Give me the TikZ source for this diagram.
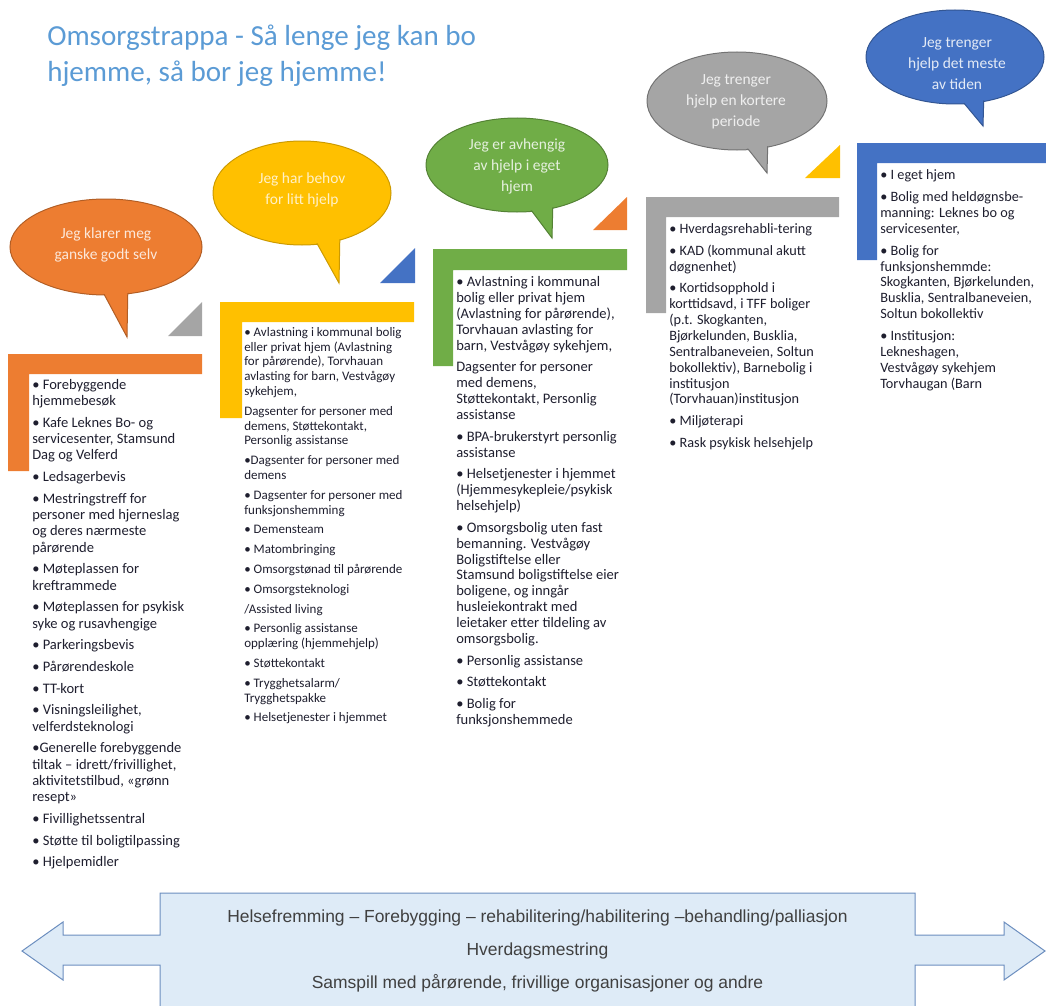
\documentclass[tikz,border=0pt]{standalone}
\usepackage{fontspec}
\setmainfont{Carlito}
\newfontfamily\arialf{Liberation Sans}
\usetikzlibrary{shapes.geometric}
\definecolor{cOr}{HTML}{ED7D31}
\definecolor{cGo}{HTML}{FFC000}
\definecolor{cGr}{HTML}{70AD47}
\definecolor{cGy}{HTML}{A5A5A5}
\definecolor{cBl}{HTML}{4472C4}
\definecolor{cTitle}{HTML}{5B9BD5}
\definecolor{cTxt}{HTML}{1E1E2E}
\definecolor{cArrFill}{HTML}{DEEBF7}
\definecolor{cArrLine}{HTML}{6C8EBF}
\definecolor{cArrTxt}{HTML}{404040}
\begin{document}
\begin{tikzpicture}[x=0.75pt,y=-0.75pt,
 bub/.style={ellipse, inner sep=0pt, outer sep=0pt, line width=0.75pt},
 bubin/.style={ellipse, inner sep=0pt, outer sep=0pt, draw=none},
 tail/.style={line width=0.75pt, line join=miter},
 bubtxt/.style={anchor=north, align=center, inner sep=0pt, font=\fontsize{11.6}{15.75}\selectfont},
 lst/.style={anchor=north west, align=left, inner sep=0pt, text=cTxt},
]
\useasboundingbox (0,0) rectangle (1046,1006);
\clip (0,0) rectangle (1046,1006);

% title
\node[anchor=north west, align=left, inner sep=0pt, text=cTitle, font=\fontsize{21.8}{27}\selectfont] (title) at (47,19.8)
 {\strut Omsorgstrappa - Så lenge jeg kan bo\\hjemme, så bor jeg hjemme!};

% ---- stairs (L shapes)
\fill[cOr] (8,354) -- (202,354) -- (202,374) -- (29,374) -- (29,471) -- (8,471) -- cycle;
\fill[cGo] (220,302) -- (414,302) -- (414,322) -- (242,322) -- (242,418) -- (220,418) -- cycle;
\fill[cGr] (433,249) -- (627,249) -- (627,270) -- (453,270) -- (453,366) -- (433,366) -- cycle;
\fill[cGy] (646,197) -- (839,197) -- (839,217) -- (666,217) -- (666,313) -- (646,313) -- cycle;
\fill[cBl] (857,143) -- (1050,143) -- (1050,163) -- (877,163) -- (877,260) -- (857,260) -- cycle;

% ---- triangles
\fill[cGy] (168,336) -- (202,336) -- (202,302) -- cycle;
\fill[cBl] (380,283) -- (415,283) -- (415,248) -- cycle;
\fill[cOr] (593,230) -- (627,230) -- (627,197) -- cycle;
\fill[cGo] (805,178) -- (840,178) -- (840,145) -- cycle;

% ---- bubbles
% orange
\node[bub, fill=cOr, draw=cOr!75!black, minimum width=144pt, minimum height=72pt] (b1) at (106,247) {};
\coordinate (t1) at (127,337);
\filldraw[tail, fill=cOr, draw=cOr!75!black] (97,281) -- (t1) -- (128,281);
\node[bubin, fill=cOr, minimum width=142.5pt, minimum height=70.5pt] (b1i) at (b1) {};
\node[bubtxt, text=white!82!cOr] (q1) at (106,227.8) {Jeg klarer meg\\ganske godt selv};
% gold
\node[bub, fill=cGo, draw=cGo!80!black, minimum width=133.5pt, minimum height=78pt] (b2) at (302,193) {};
\coordinate (t2) at (339,283);
\filldraw[tail, fill=cGo, draw=cGo!80!black] (309,229) -- (t2) -- (340,229);
\node[bubin, fill=cGo, minimum width=132pt, minimum height=76.5pt] (b2i) at (b2) {};
\node[bubtxt, text=white!78!cGo] (q2) at (302,172.8) {Jeg har behov\\for litt hjelp};
% green
\node[bub, fill=cGr, draw=cGr!75!black, minimum width=136.5pt, minimum height=70.5pt] (b3) at (517,165) {};
\coordinate (t3) at (552,238);
\filldraw[tail, fill=cGr, draw=cGr!75!black] (522,198) -- (t3) -- (553,198);
\node[bubin, fill=cGr, minimum width=135pt, minimum height=69pt] (b3i) at (b3) {};
\node[bubtxt, text=white!82!cGr] (q3) at (517,138.3) {Jeg er avhengig\\av hjelp i eget\\hjem};
% gray
\node[bub, fill=cGy, draw=cGy!70!black, minimum width=135pt, minimum height=73.5pt] (b4) at (737,101) {};
\coordinate (t4) at (767,173);
\filldraw[tail, fill=cGy, draw=cGy!70!black] (737,135) -- (t4) -- (768,135);
\node[bubin, fill=cGy, minimum width=133.5pt, minimum height=72pt] (b4i) at (b4) {};
\node[bubtxt, text=white!82!cGy] (q4) at (736,74.8) {Jeg trenger\\hjelp en kortere\\periode};
% blue
\node[bub, fill=cBl, draw=cBl!75!black, minimum width=133.5pt, minimum height=70.5pt] (b5) at (955,57) {};
\coordinate (t5) at (983,126);
\filldraw[tail, fill=cBl, draw=cBl!75!black] (953,90) -- (t5) -- (984,90);
\node[bubin, fill=cBl, minimum width=132pt, minimum height=69pt] (b5i) at (b5) {};
\node[bubtxt, text=white!85!cBl] (q5) at (957,37.8) {Jeg trenger\\hjelp det meste\\av tiden};

% ---- lists
\node[lst, font=\fontsize{10.9}{12.2}\selectfont] (l1) at (32,377.6) {\strut• Forebyggende\\
hjemmebesøk\\[4.1pt]
• Kafe Leknes Bo- og\\
servicesenter, Stamsund\\
Dag og Velferd\\[4.1pt]
• Ledsagerbevis\\[4.1pt]
• Mestringstreff for\\
personer med hjerneslag\\
og deres nærmeste\\
pårørende\\[4.1pt]
• Møteplassen for\\
kreftrammede\\[4.1pt]
• Møteplassen for psykisk\\
syke og rusavhengige\\[4.1pt]
• Parkeringsbevis\\[4.1pt]
• Pårørendeskole\\[4.1pt]
• TT-kort\\[4.1pt]
• Visningsleilighet,\\
velferdsteknologi\\[4.1pt]
•Generelle forebyggende\\
tiltak – idrett/frivillighet,\\
aktivitetstilbud, «grønn\\
resept»\\[4.1pt]
• Fivillighetssentral\\[4.1pt]
• Støtte til boligtilpassing\\[4.1pt]
• Hjelpemidler};

\node[lst, font=\fontsize{9.75}{11.1}\selectfont] (l2) at (244,325.6) {\strut• Avlastning i kommunal bolig\\
eller privat hjem (Avlastning\\
for pårørende), Torvhauan\\
avlasting for barn, Vestvågøy\\
sykehjem,\\[3.75pt]
Dagsenter for personer med\\
demens, Støttekontakt,\\
Personlig assistanse\\[3.75pt]
•Dagsenter for personer med\\
demens\\[3.75pt]
• Dagsenter for personer med\\
funksjonshemming\\[3.75pt]
• Demensteam\\[3.75pt]
• Matombringing\\[3.75pt]
• Omsorgstønad til pårørende\\[3.75pt]
• Omsorgsteknologi\\[3.75pt]
/Assisted living\\[3.75pt]
• Personlig assistanse\\
opplæring (hjemmehjelp)\\[3.75pt]
• Støttekontakt\\[3.75pt]
• Trygghetsalarm/\\
Trygghetspakke\\[3.75pt]
• Helsetjenester i hjemmet};

\node[lst, font=\fontsize{10.9}{11.9}\selectfont] (l3) at (456,275.4) {\strut• Avlastning i kommunal\\
bolig eller privat hjem\\
(Avlastning for pårørende),\\
Torvhauan avlasting for\\
barn, Vestvågøy sykehjem,\\[4.4pt]
Dagsenter for personer\\
med demens,\\
Støttekontakt, Personlig\\
assistanse\\[4.4pt]
• BPA-brukerstyrt personlig\\
assistanse\\[4.4pt]
• Helsetjenester i hjemmet\\
(Hjemmesykepleie/psykisk\\
helsehjelp)\\[4.4pt]
• Omsorgsbolig uten fast\\
bemanning. Vestvågøy\\
Boligstiftelse eller\\
Stamsund boligstiftelse eier\\
boligene, og inngår\\
husleiekontrakt med\\
leietaker etter tildeling av\\
omsorgsbolig.\\[4.4pt]
• Personlig assistanse\\[4.4pt]
• Støttekontakt\\[4.4pt]
• Bolig for\\
funksjonshemmede};

\node[lst, font=\fontsize{10.7}{11.9}\selectfont] (l4) at (669,221.9) {\strut• Hverdagsrehabli-tering\\[4.5pt]
• KAD (kommunal akutt\\
døgnenhet)\\[4.5pt]
• Kortidsopphold i\\
korttidsavd, i TFF boliger\\
(p.t. Skogkanten,\\
Bjørkelunden, Busklia,\\
Sentralbaneveien, Soltun\\
bokollektiv), Barnebolig i\\
institusjon\\
(Torvhauan)institusjon\\[4.5pt]
• Miljøterapi\\[4.5pt]
• Rask psykisk helsehjelp};

\node[lst, font=\fontsize{10.7}{11.85}\selectfont] (l5) at (880,167.9) {\strut• I eget hjem\\[4.8pt]
• Bolig med heldøgnsbe-\\
manning: Leknes bo og\\
servicesenter,\\[4.8pt]
• Bolig for\\
funksjonshemmde:\\
Skogkanten, Bjørkelunden,\\
Busklia, Sentralbaneveien,\\
Soltun bokollektiv\\[4.8pt]
• Institusjon:\\
Lekneshagen,\\
Vestvågøy sykehjem\\
Torvhaugan (Barn};

% ---- bottom double arrow
\filldraw[fill=cArrFill, draw=cArrLine, line width=0.75pt, line join=miter]
 (160,893) -- (160,935) -- (63,935) -- (63,922) -- (22,951) -- (63,980) -- (63,965) -- (160,965)
 -- (160,1015) -- (915,1015) -- (915,965) -- (1004,965) -- (1004,980) -- (1045,951) -- (1004,922)
 -- (1004,935) -- (915,935) -- (915,893) -- cycle;
\node[anchor=north, align=center, inner sep=0pt, text=cArrTxt, font=\arialf\fontsize{13.1}{25}\selectfont] (bt) at (537.5,898.6)
 {\strut Helsefremming – Forebygging – rehabilitering/habilitering –behandling/palliasjon\\
 Hverdagsmestring\\
 Samspill med pårørende, frivillige organisasjoner og andre};
\end{tikzpicture}
\end{document}
